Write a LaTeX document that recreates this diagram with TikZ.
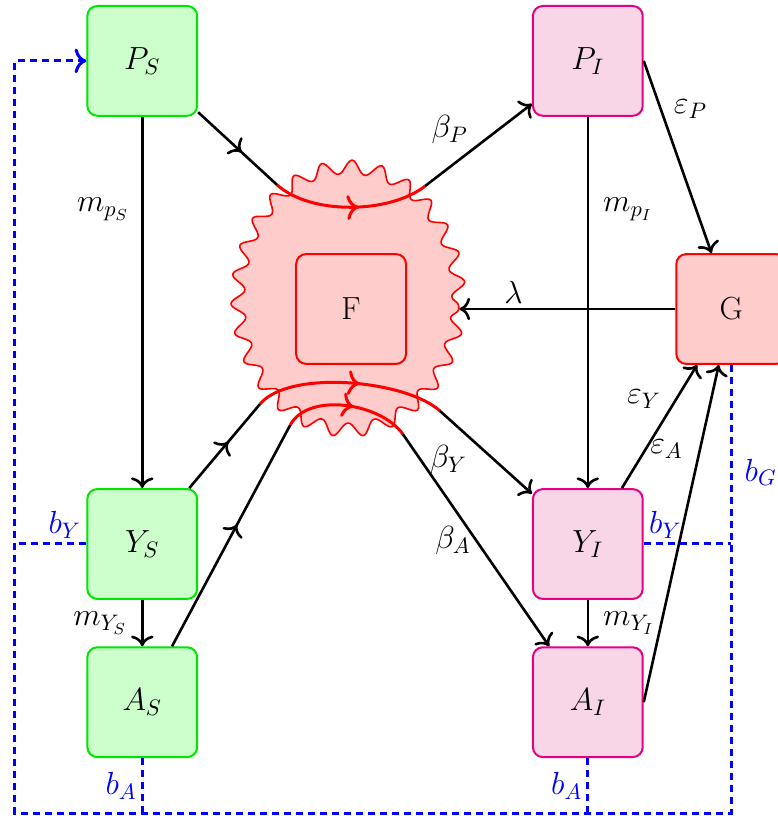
\RequirePackage{fix-cm}
\documentclass[tikz,border=0pt]{standalone}
\usetikzlibrary{positioning,arrows.meta,calc,shapes.geometric,
                decorations.pathmorphing,decorations.markings}
\definecolor{susfill}{RGB}{204,255,204}
\definecolor{susline}{RGB}{0,230,0}
\definecolor{inffill}{RGB}{249,214,231}
\definecolor{infline}{RGB}{230,0,130}
\definecolor{envfill}{RGB}{255,204,204}
\tikzset{
  fig/.style={font=\fontsize{16}{19}\selectfont,>={To[scale=1.2]}},
  cbox/.style={draw,rounded corners=5pt,line width=1pt,minimum size=1.93cm,
               inner sep=2pt,align=center},
  sbox/.style={cbox,draw=susline,fill=susfill},
  ibox/.style={cbox,draw=infline,fill=inffill},
  ebox/.style={cbox,draw=red,fill=envfill},
  ln/.style={->,line width=1.3pt},
  midarr/.style={decoration={markings,mark=at position 0.55 with {\arrow{>}}},
                 postaction={decorate}},
  bdash/.style={blue,line width=1.5pt,dash pattern=on 3.5pt off 2.5pt},
  bl/.style={blue,inner sep=2pt},
}

\begin{document}
\begin{tikzpicture}[fig,
  blob/.style={ellipse,draw=red,fill=envfill,line width=0.8pt,
               minimum width=3.88cm,minimum height=4.62cm,decorate,
               decoration={snake,amplitude=0.12cm,segment length=0.5cm}},
  rc/.style={red,line width=1.5pt,midarr},
  lbl/.style={inner sep=2pt}]

\useasboundingbox (0,0) rectangle (13.67,14.34);

% compartments
\node[sbox] (PS) at (2.5,13.27) {$P_S$};
\node[sbox] (YS) at (2.5,4.78)  {$Y_S$};
\node[sbox] (AS) at (2.5,2.0)   {$A_S$};
\node[ibox] (PI) at (10.33,13.27) {$P_I$};
\node[ibox] (YI) at (10.33,4.78)  {$Y_I$};
\node[ibox] (AI) at (10.33,2.0)   {$A_I$};
\node[ebox] (G)  at (12.85,8.91) {G};

% infection blob
\node[blob] (B) at (6.12,8.97) {};
\node[ebox] (F) at (6.17,8.91) {F};

\coordinate (a1) at (4.87,11.09);
\coordinate (a2) at (7.47,11.07);
\coordinate (b1) at (4.57,7.24);
\coordinate (b2) at (7.73,7.12);
\coordinate (c1) at (5.10,6.87);
\coordinate (c2) at (7.08,6.71);
\coordinate (lft) at (0.26,0.05);

\draw[rc] (a1) to[out=-42,in=-142,looseness=0.78] (a2);
\draw[rc] (b1) to[out=50,in=138,looseness=0.65] (b2);
\draw[rc] (c1) to[out=62,in=125,looseness=0.86] (c2);

\draw[line width=1.3pt,midarr] (PS) -- (a1);
\draw[line width=1.3pt,midarr] (YS) -- (b1);
\draw[line width=1.3pt,midarr] (AS) -- (c1);
\draw[ln] (a2) -- node[lbl,above left,pos=0.45] {$\beta_P$} (PI);
\draw[ln] (b2) -- node[lbl,below left,pos=0.35] {$\beta_Y$} (YI);
\draw[ln] (c2) -- node[lbl,left] {$\beta_A$} (AI);

% ageing and maturation
\draw[ln] (PS) -- node[lbl,left=4pt,pos=0.25] {$m_{p_S}$} (YS);
\draw[ln] (YS) -- node[lbl,left=5pt] {$m_{Y_S}$} (AS);
\draw[ln] (PI) -- node[lbl,right=5pt,pos=0.25] {$m_{p_I}$} (YI);
\draw[ln] (YI) -- node[lbl,right=5pt] {$m_{Y_I}$} (AI);

% shedding
\draw[ln] (PI.east) -- node[lbl,right=4pt,pos=0.25] {$\varepsilon_P$} (G);
\draw[ln] (YI) -- node[lbl,left=5pt,pos=0.72] {$\varepsilon_Y$} (G);
\draw[ln] (AI.east) -- node[lbl,left=6pt,pos=0.75] {$\varepsilon_A$} (G);
\draw[ln] (G) -- node[lbl,above,pos=0.75] {$\lambda$} (G -| B.east);

% births
\draw[bdash,->] (G.south) |- node[bl,right=4pt,pos=0.12] {$b_G$} (lft) |- (PS.west);
\draw[bdash] (YS.west) node[bl,above left] {$b_Y$} -- (YS.west -| lft);
\draw[bdash] (AS.south) -- node[bl,left] {$b_A$} (AS.south |- lft);
\draw[bdash] (AI.south) -- node[bl,left] {$b_A$} (AI.south |- lft);
\draw[bdash] (YI.east) node[bl,above right] {$b_Y$} -- (YI.east -| G.south);

\end{tikzpicture}
\end{document}
